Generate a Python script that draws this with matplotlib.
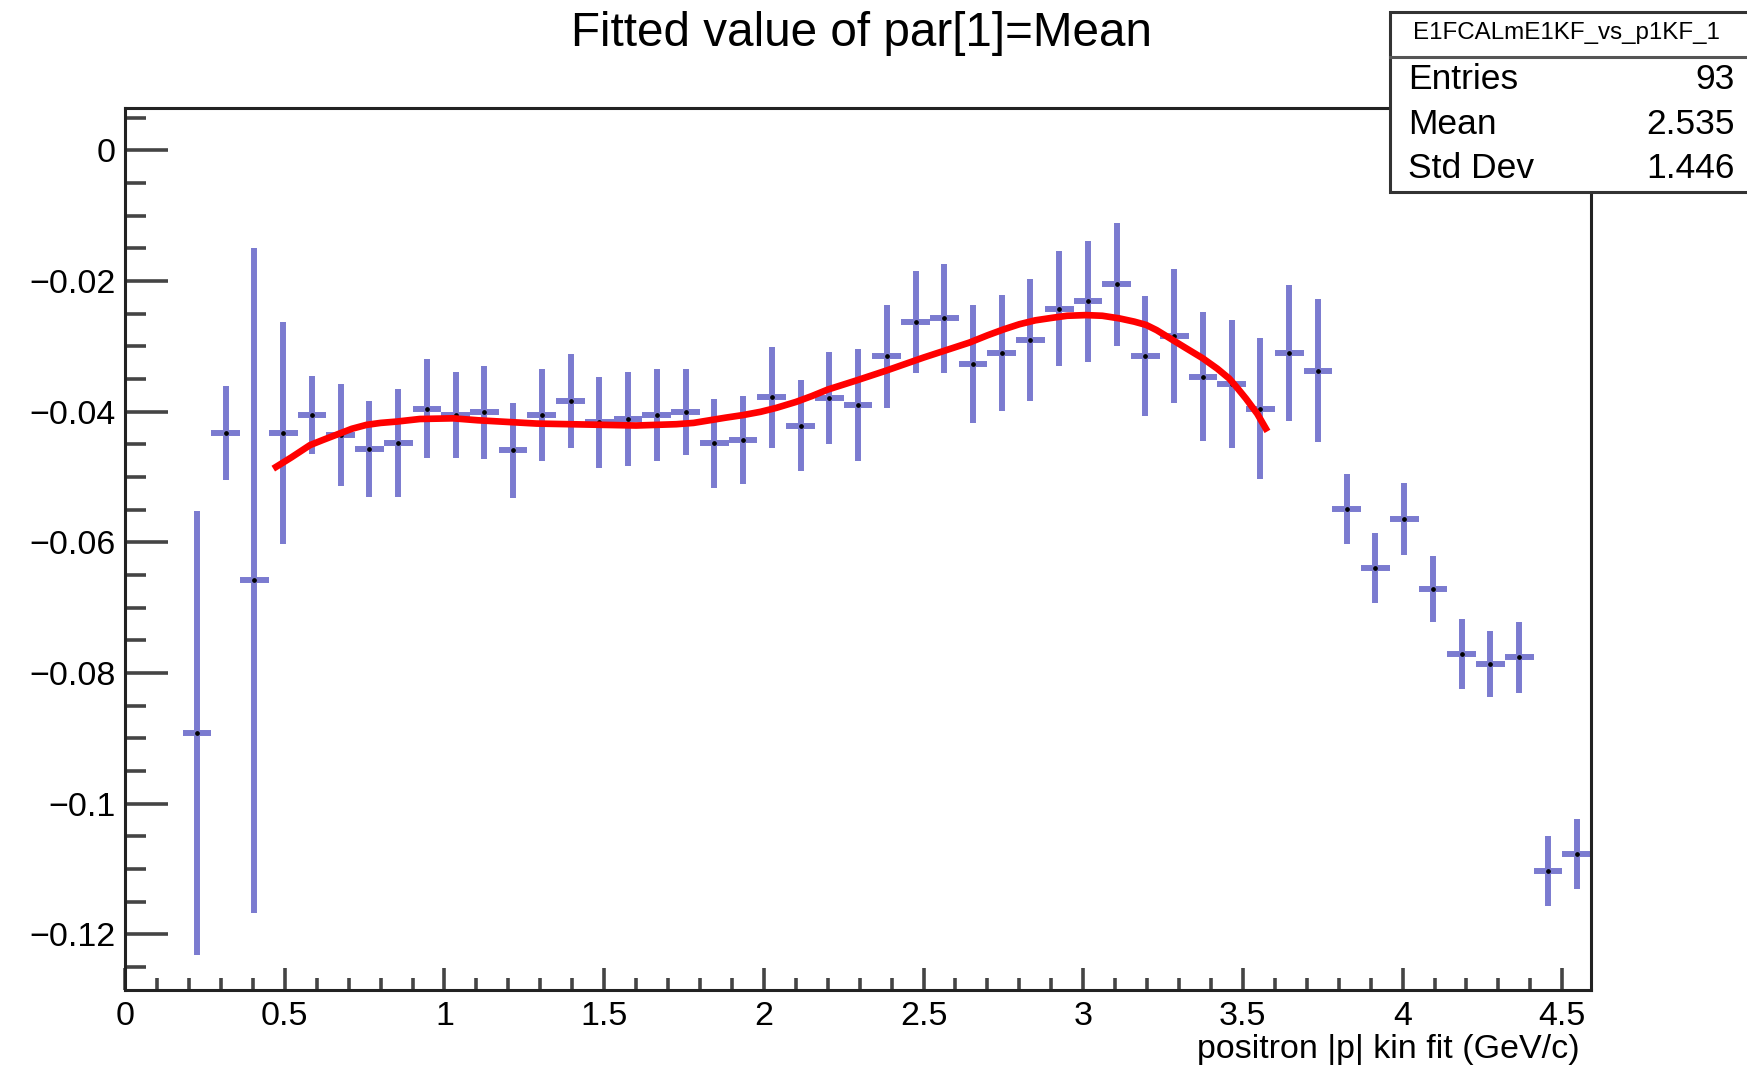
import matplotlib
matplotlib.use('Agg') # Non-interactive backend

import matplotlib.pyplot as plt
from matplotlib.patches import Rectangle
from matplotlib.ticker import MultipleLocator, FuncFormatter

plt.rcParams['font.family'] = ['Liberation Sans', 'DejaVu Sans']

# Fitted mean per bin (bin width 0.09 GeV/c)
p_bins = [0.225, 0.315, 0.405, 0.495, 0.585, 0.675, 0.765, 0.855, 0.945, 1.035,
          1.125, 1.215, 1.305, 1.395, 1.485, 1.575, 1.665, 1.755, 1.845, 1.935,
          2.025, 2.115, 2.205, 2.295, 2.385, 2.475, 2.565, 2.655, 2.745, 2.835,
          2.925, 3.015, 3.105, 3.195, 3.285, 3.375, 3.465, 3.555, 3.645, 3.735,
          3.825, 3.915, 4.005, 4.095, 4.185, 4.275, 4.365, 4.455, 4.545]
mean_vals = [-0.0892, -0.0432, -0.0658, -0.0433, -0.0405, -0.0436, -0.0457, -0.0448, -0.0395, -0.0405,
             -0.0401, -0.0459, -0.0405, -0.0384, -0.0416, -0.0411, -0.0405, -0.0400, -0.0448, -0.0443,
             -0.0378, -0.0421, -0.0379, -0.0390, -0.0315, -0.0262, -0.0257, -0.0327, -0.0310, -0.0290,
             -0.0242, -0.0231, -0.0205, -0.0315, -0.0284, -0.0346, -0.0358, -0.0395, -0.0310, -0.0337,
             -0.0549, -0.0639, -0.0564, -0.0671, -0.0771, -0.0786, -0.0776, -0.1103, -0.1077]
mean_errs = [0.0340, 0.0072, 0.0509, 0.0170, 0.0060, 0.0078, 0.0073, 0.0083, 0.0076, 0.0066,
             0.0071, 0.0073, 0.0071, 0.0072, 0.0070, 0.0072, 0.0071, 0.0066, 0.0068, 0.0067,
             0.0077, 0.0070, 0.0071, 0.0086, 0.0079, 0.0078, 0.0083, 0.0090, 0.0089, 0.0093,
             0.0088, 0.0093, 0.0094, 0.0092, 0.0103, 0.0098, 0.0098, 0.0108, 0.0104, 0.0109,
             0.0054, 0.0054, 0.0055, 0.0051, 0.0054, 0.0051, 0.0054, 0.0054, 0.0054]
half_bin = 0.045

# Fit function values
fit_p = [0.464, 0.52, 0.579, 0.62, 0.673, 0.71, 0.756, 0.80, 0.850, 0.923,
         1.027, 1.105, 1.288, 1.497, 1.60, 1.726, 1.78, 1.830, 1.88, 1.935,
         1.99, 2.039, 2.10, 2.15, 2.20, 2.29, 2.383, 2.50, 2.644, 2.70,
         2.75, 2.800, 2.85, 2.905, 2.95, 3.009, 3.06, 3.113, 3.16, 3.197,
         3.23, 3.27, 3.32, 3.374, 3.42, 3.457, 3.48, 3.51, 3.545, 3.577]
fit_vals = [-0.0487, -0.0470, -0.0451, -0.0443, -0.0433, -0.0426, -0.0420, -0.0417, -0.0415, -0.0411,
            -0.0410, -0.0413, -0.0418, -0.0420, -0.0421, -0.0419, -0.0417, -0.0413, -0.0409, -0.0405,
            -0.0400, -0.0394, -0.0385, -0.0376, -0.0366, -0.0352, -0.0337, -0.0317, -0.0294, -0.0283,
            -0.0274, -0.0266, -0.0260, -0.0256, -0.0253, -0.0252, -0.0253, -0.0257, -0.0262, -0.0267,
            -0.0275, -0.0287, -0.0302, -0.0318, -0.0334, -0.0349, -0.0362, -0.0380, -0.0403, -0.0430]

hist_name = 'E1FCALmE1KF_vs_p1KF_1'
stats_labels = ['Entries', 'Mean', 'Std Dev']
stats_values = ['93', '2.535', '1.446']

DPI = 100
fig = plt.figure(figsize=(17.47, 10.79), dpi=DPI)
ax = fig.add_axes([0.0716, 0.0825, 0.8391, 0.8174])

ax.errorbar(p_bins, mean_vals, xerr=half_bin, yerr=mean_errs, fmt='none',
            ecolor='#7b7bd0', elinewidth=4.3, capsize=0, zorder=2)
ax.plot(p_bins, mean_vals, ls='none', marker='o', ms=2.4, color='black', zorder=3)
ax.plot(fit_p, fit_vals, color='#ff0000', lw=4.8, solid_capstyle='butt',
        solid_joinstyle='round', zorder=4)

ax.set_xlim(0, 4.59)
ax.set_ylim(-0.1285, 0.0065)

ax.xaxis.set_major_locator(MultipleLocator(0.5))
ax.xaxis.set_minor_locator(MultipleLocator(0.1))
ax.yaxis.set_major_locator(MultipleLocator(0.02))
ax.yaxis.set_minor_locator(MultipleLocator(0.005))
fmt = FuncFormatter(lambda v, _: ('%g' % round(v, 6)).replace('-', '\u2212'))
ax.xaxis.set_major_formatter(fmt)
ax.yaxis.set_major_formatter(fmt)

ax.tick_params(axis='both', which='both', direction='in', top=False, right=False,
               color='#444444', labelsize=24.5)
ax.tick_params(axis='y', which='major', length=31, width=2.6, pad=7)
ax.tick_params(axis='y', which='minor', length=15, width=2.6)
ax.tick_params(axis='x', which='major', length=16, width=2.6, pad=8)
ax.tick_params(axis='x', which='minor', length=8.5, width=2.6)
for s in ax.spines.values():
    s.set_linewidth(2.2)
    s.set_color('#222222')

fig.text(0.493, 1 - 34 / 1079., 'Fitted value of par[1]=Mean', fontsize=34.3,
         ha='center', va='center')
fig.text(0.9044, 0.027, 'positron |p| kin fit (GeV/c)', fontsize=24.5,
         ha='right', va='center')

# Stats box
box = Rectangle((0.7957, 0.822), 0.25, 0.1668, transform=fig.transFigure,
                facecolor='white', edgecolor='#333333', lw=2.2, zorder=10)
fig.patches.append(box)
fig.lines.append(plt.Line2D([0.7957, 1.0], [0.9472, 0.9472], transform=fig.transFigure,
                            color='#555555', lw=2.2, zorder=11))
fig.text(0.8968, 0.9694, hist_name, fontsize=17.4, ha='center', va='center', zorder=12)
for i, (lab, val) in enumerate(zip(stats_labels, stats_values)):
    y = [0.9259, 0.8842, 0.8443][i]
    fig.text(0.806, y, lab, fontsize=25.5, ha='left', va='center', zorder=12)
    fig.text(0.9931, y, val, fontsize=25.5, ha='right', va='center', zorder=12)

fig.savefig('out.png', dpi=DPI)
